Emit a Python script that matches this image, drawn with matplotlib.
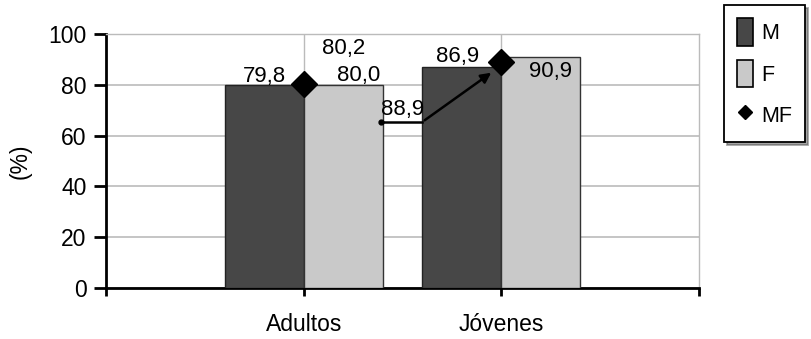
import matplotlib
matplotlib.use("Agg")
import matplotlib.pyplot as plt
from matplotlib.patches import Patch
from matplotlib.lines import Line2D
import numpy as np

plt.rcParams['font.family'] = ['Liberation Sans', 'DejaVu Sans']

categories = ["Adultos", "Jóvenes"]
m_vals = [79.8, 86.9]
f_vals = [80.0, 90.9]
mf_vals = [80.2, 88.9]
series_names = ["M", "F", "MF"]
yticks = [0, 20, 40, 60, 80, 100]

fig = plt.figure(figsize=(8.11, 3.39), dpi=100)
ax = fig.add_axes([0.1307, 0.150, 0.7313, 0.7497])

x = np.arange(1, len(categories) + 1)
w = 0.4
ax.bar(x - w / 2, m_vals, width=w, color="#474747", edgecolor="#222222", linewidth=1.0, zorder=3)
ax.bar(x + w / 2, f_vals, width=w, color="#c9c9c9", edgecolor="#333333", linewidth=1.0, zorder=3)
ax.plot(x, mf_vals, linestyle="none", marker="D", markersize=13, color="black", zorder=5)

ax.set_xlim(0, 3)
ax.set_ylim(0, 100)
ax.set_yticks(yticks)
ax.set_xticks(x)
ax.set_xticklabels(categories)
ax.tick_params(axis="y", direction="out", length=9, width=2, labelsize=16.5, pad=5)
ax.tick_params(axis="x", direction="out", length=6, width=2, labelsize=16.5, pad=12)
ax.set_xticks([0, 1, 2, 3], minor=True)
ax.tick_params(axis="x", which="minor", direction="out", length=6, width=2)

ax.grid(axis="y", color="#bbbbbb", linewidth=1.2, zorder=0)
for xi in x:
    ax.axvline(xi, color="#bbbbbb", linewidth=1.0, zorder=1)
for side in ["top", "right"]:
    ax.spines[side].set_color("#bbbbbb")
    ax.spines[side].set_linewidth(1.0)
ax.spines["left"].set_linewidth(2)
ax.spines["bottom"].set_linewidth(2)
ax.set_ylabel("(%)", fontsize=16.5, labelpad=12)

fs = 16
# data labels
ax.text(x[0] - w / 2 + 0.0, m_vals[0] - 0.5, "79,8", ha="center", va="bottom", fontsize=fs, zorder=6)
ax.text(x[0] + 0.2, mf_vals[0] + 10, "80,2", ha="center", va="bottom", fontsize=fs, zorder=6)
ax.text(x[0] + w / 2 + 0.08, f_vals[0] - 0.5, "80,0", ha="center", va="bottom", fontsize=fs, zorder=6)
ax.text(x[1] - w / 2 - 0.02, m_vals[1] + 0.0, "86,9", ha="center", va="bottom", fontsize=fs, zorder=6)
ax.text(x[1] + w / 2 + 0.05, f_vals[1] - 1.5, "90,9", ha="center", va="top", fontsize=fs, zorder=6)
ax.text(x[0] + 0.5, 66.0, "88,9", ha="center", va="bottom", fontsize=fs, zorder=6)

# leader arrow for the 88,9 label
x0 = x[0] + w - 0.01
x1 = x[1] - w
y0 = 65.4
ax.plot([x0, x1], [y0, y0], color="black", linewidth=1.8, zorder=6)
ax.plot([x0], [y0], marker="o", markersize=3.5, color="black", zorder=6)
ax.annotate("", xy=(x[1] - 0.04, mf_vals[1] - 3.5), xytext=(x1, y0),
            arrowprops=dict(arrowstyle="-|>", color="black", lw=1.8, mutation_scale=15),
            zorder=6)

handles = [Patch(facecolor="#474747", edgecolor="black", linewidth=1.2),
           Patch(facecolor="#c9c9c9", edgecolor="black", linewidth=1.2),
           Line2D([], [], linestyle="none", marker="D", markersize=7, color="black")]
leg = fig.legend(handles, series_names, loc="upper right", bbox_to_anchor=(0.993, 0.985),
                 fontsize=15.5, frameon=True, fancybox=False, shadow=True,
                 handlelength=0.75, handleheight=1.6, handletextpad=0.4,
                 labelspacing=0.65, borderpad=0.6, borderaxespad=0)
leg.get_frame().set_edgecolor("black")
leg.get_frame().set_linewidth(1.3)

fig.savefig("out.png", dpi=100)
